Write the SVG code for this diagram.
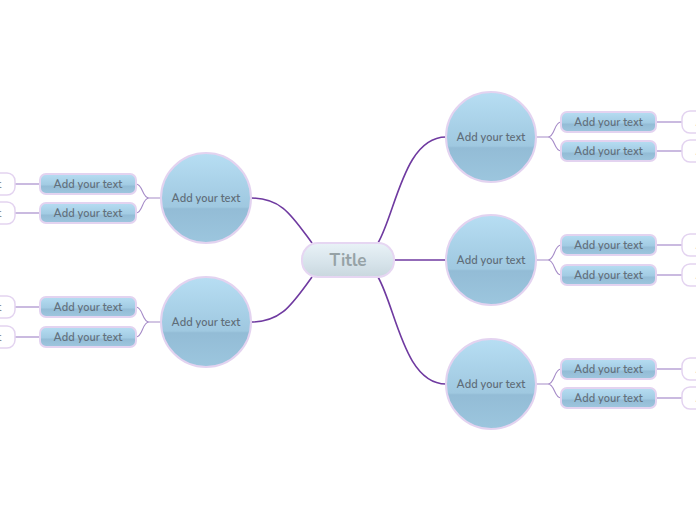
<svg xmlns="http://www.w3.org/2000/svg" width="696" height="520" viewBox="0 0 696 520">
<defs>
<linearGradient id="gCircle" x1="0" y1="0" x2="0" y2="1">
<stop offset="0" stop-color="#b7def3"/>
<stop offset="0.6" stop-color="#9fc8e0"/>
<stop offset="0.62" stop-color="#93bcd6"/>
<stop offset="1" stop-color="#9cc6de"/>
</linearGradient>
<linearGradient id="gBox" x1="0" y1="0" x2="0" y2="1">
<stop offset="0" stop-color="#b6ddf2"/>
<stop offset="0.55" stop-color="#a2cbe3"/>
<stop offset="0.6" stop-color="#93bcd6"/>
<stop offset="1" stop-color="#9ec6de"/>
</linearGradient>
<linearGradient id="gTitle" x1="0" y1="0" x2="0" y2="1">
<stop offset="0" stop-color="#e9f2f7"/>
<stop offset="0.6" stop-color="#d6e3ea"/>
<stop offset="1" stop-color="#c9d7de"/>
</linearGradient>
</defs>
<style>
.main{fill:none;stroke:#6f3aa0;stroke-width:1.6}
.sub{fill:none;stroke:#a68cc8;stroke-width:1.1}
.leaf{fill:none;stroke:#b9a4d6;stroke-width:1.3}
.circle{fill:url(#gCircle);stroke:#e3d3f0;stroke-width:2}
.box{fill:url(#gBox);stroke:#e3d3f0;stroke-width:2}
.wbox{fill:#ffffff;stroke:#e3d3f0;stroke-width:1.5}
.title{fill:url(#gTitle);stroke:#e6d6f2;stroke-width:2}
text{font-family:"Nunito","Lato","Open Sans","Liberation Sans",sans-serif;text-anchor:middle;dominant-baseline:central}
.tt{font-size:17px;font-weight:bold;fill:#96a2a6}
.ct{font-size:11px;font-weight:600;fill:#5f6d79}
.bt{font-size:11px;font-weight:600;fill:#62707c}
.wt{font-size:11px;font-weight:600;fill:#8a8f94}
</style>
<g id="connectors">
<path class="main" d="M378,243 C396,212 404,137 446,137"/>
<path class="main" d="M394,260 L446,260"/>
<path class="main" d="M378,277 C396,308 404,384 446,384"/>
<path class="main" d="M312,243 C292,216 282,198 251,198"/>
<path class="main" d="M312,277 C292,304 282,322 251,322"/>
<path class="sub" d="M536,137 L548,137 C555,137 554,122 561,122 M548,137 C555,137 554,151 561,151"/>
<path class="sub" d="M536,260 L548,260 C555,260 554,245 561,245 M548,260 C555,260 554,275 561,275"/>
<path class="sub" d="M536,384 L548,384 C555,384 554,369 561,369 M548,384 C555,384 554,398 561,398"/>
<path class="sub" d="M161,198 L149,198 C142,198 143,184 136,184 M149,198 C142,198 143,213 136,213"/>
<path class="sub" d="M161,322 L149,322 C142,322 143,307 136,307 M149,322 C142,322 143,337 136,337"/>
<path class="leaf" d="M656,122 H682 M656,151 H682 M656,245 H682 M656,275 H682 M656,369 H682 M656,398 H682"/>
<path class="leaf" d="M40,184 H15 M40,213 H15 M40,307 H15 M40,337 H15"/>
</g>
<g id="title"><rect class="title" x="302" y="243" width="92" height="34" rx="16"/><text class="tt" x="348" y="260">Title</text></g>
<g id="c1"><circle class="circle" cx="491" cy="137" r="45"/><text class="ct" x="491" y="137">Add your text</text></g>
<g id="c2"><circle class="circle" cx="491" cy="260" r="45"/><text class="ct" x="491" y="260">Add your text</text></g>
<g id="c3"><circle class="circle" cx="491" cy="384" r="45"/><text class="ct" x="491" y="384">Add your text</text></g>
<g id="c4"><circle class="circle" cx="206" cy="198" r="45"/><text class="ct" x="206" y="198">Add your text</text></g>
<g id="c5"><circle class="circle" cx="206" cy="322" r="45"/><text class="ct" x="206" y="322">Add your text</text></g>
<g id="b1"><rect class="box" x="561" y="112" width="95" height="20" rx="6"/><text class="bt" x="608.5" y="122">Add your text</text></g>
<g id="b2"><rect class="box" x="561" y="141" width="95" height="20" rx="6"/><text class="bt" x="608.5" y="151">Add your text</text></g>
<g id="b3"><rect class="box" x="561" y="235" width="95" height="20" rx="6"/><text class="bt" x="608.5" y="245">Add your text</text></g>
<g id="b4"><rect class="box" x="561" y="265" width="95" height="20" rx="6"/><text class="bt" x="608.5" y="275">Add your text</text></g>
<g id="b5"><rect class="box" x="561" y="359" width="95" height="20" rx="6"/><text class="bt" x="608.5" y="369">Add your text</text></g>
<g id="b6"><rect class="box" x="561" y="388" width="95" height="20" rx="6"/><text class="bt" x="608.5" y="398">Add your text</text></g>
<g id="b7"><rect class="box" x="40" y="174" width="96" height="20" rx="6"/><text class="bt" x="88" y="184">Add your text</text></g>
<g id="b8"><rect class="box" x="40" y="203" width="96" height="20" rx="6"/><text class="bt" x="88" y="213">Add your text</text></g>
<g id="b9"><rect class="box" x="40" y="297" width="96" height="20" rx="6"/><text class="bt" x="88" y="307">Add your text</text></g>
<g id="b10"><rect class="box" x="40" y="327" width="96" height="20" rx="6"/><text class="bt" x="88" y="337">Add your text</text></g>
<g id="w1"><rect class="wbox" x="682" y="111" width="96" height="22" rx="8"/><text class="wt" x="730" y="122">Add your text</text></g>
<g id="w2"><rect class="wbox" x="682" y="140" width="96" height="22" rx="8"/><text class="wt" x="730" y="151">Add your text</text></g>
<g id="w3"><rect class="wbox" x="682" y="234" width="96" height="22" rx="8"/><text class="wt" x="730" y="245">Add your text</text></g>
<g id="w4"><rect class="wbox" x="682" y="264" width="96" height="22" rx="8"/><text class="wt" x="730" y="275">Add your text</text></g>
<g id="w5"><rect class="wbox" x="682" y="358" width="96" height="22" rx="8"/><text class="wt" x="730" y="369">Add your text</text></g>
<g id="w6"><rect class="wbox" x="682" y="387" width="96" height="22" rx="8"/><text class="wt" x="730" y="398">Add your text</text></g>
<g id="w7"><rect class="wbox" x="-81" y="173" width="96" height="22" rx="8"/><text class="wt" x="-33" y="184">Add your text</text></g>
<g id="w8"><rect class="wbox" x="-81" y="202" width="96" height="22" rx="8"/><text class="wt" x="-33" y="213">Add your text</text></g>
<g id="w9"><rect class="wbox" x="-81" y="296" width="96" height="22" rx="8"/><text class="wt" x="-33" y="307">Add your text</text></g>
<g id="w10"><rect class="wbox" x="-81" y="326" width="96" height="22" rx="8"/><text class="wt" x="-33" y="337">Add your text</text></g>
</svg>
